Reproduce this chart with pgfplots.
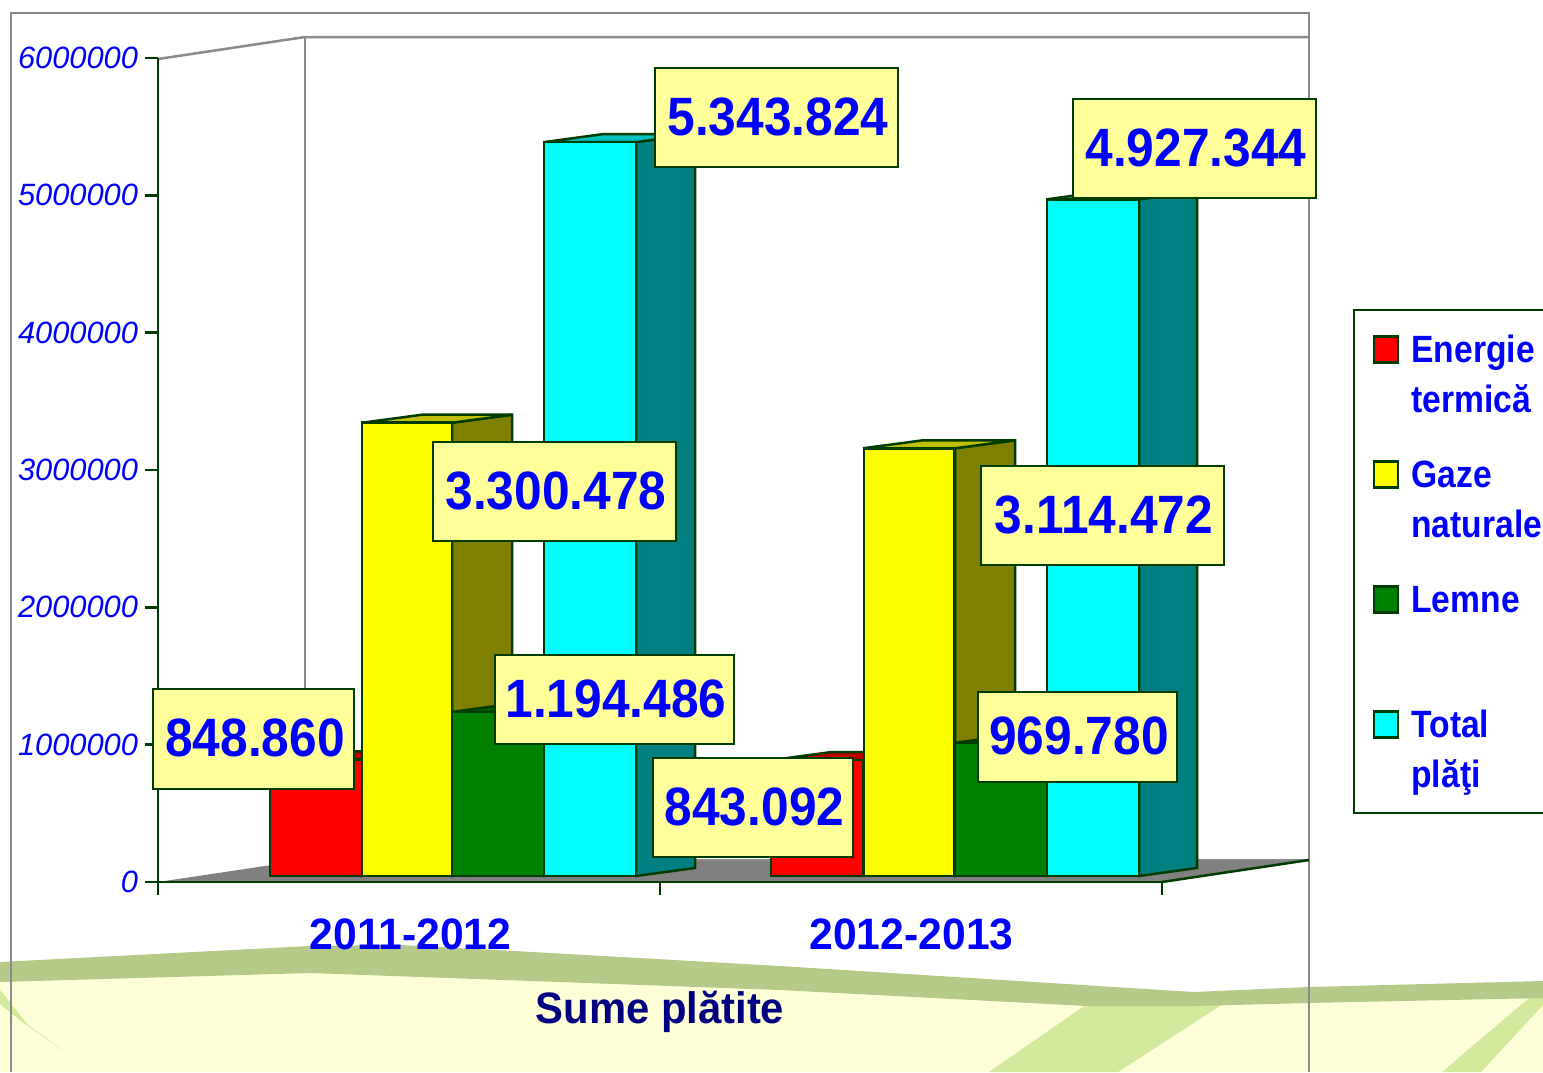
\documentclass[border=0pt]{standalone}
\usepackage{fontspec}
\usepackage{pgfplots}
\pgfplotsset{compat=1.18}
\setmainfont{Liberation Sans}
\newfontfamily\labf[FakeStretch=0.92]{Liberation Sans}
\newfontfamily\legf[FakeStretch=0.885]{Liberation Sans}
\newfontfamily\catf[FakeStretch=0.97]{Liberation Sans}
\newfontfamily\xlf[FakeStretch=0.95]{Liberation Sans}
\definecolor{edge}{HTML}{003C00}
\definecolor{wallg}{HTML}{8A8A8A}
\definecolor{floorg}{HTML}{808080}
\definecolor{band}{HTML}{B5CA88}
\definecolor{pale}{HTML}{FEFFD6}
\definecolor{stripe}{HTML}{D2E99E}
\definecolor{boxy}{HTML}{FFFF99}
\definecolor{navyt}{HTML}{000080}
\definecolor{blueT}{HTML}{0000FF}
\definecolor{redF}{HTML}{FF0000}
\definecolor{redS}{HTML}{800000}
\definecolor{redT}{HTML}{C00000}
\definecolor{yelF}{HTML}{FFFF00}
\definecolor{yelS}{HTML}{808000}
\definecolor{yelT}{HTML}{C0C000}
\definecolor{grnF}{HTML}{008000}
\definecolor{grnS}{HTML}{004000}
\definecolor{grnT}{HTML}{006000}
\definecolor{cyaF}{HTML}{00FFFF}
\definecolor{cyaS}{HTML}{008080}
\definecolor{cyaT}{HTML}{00C0C0}
\newcommand\legtwo[2]{\vbox{\hbox{\rule[-5.5pt]{0pt}{25pt}#1}\hbox{\rule[-5.5pt]{0pt}{25pt}#2}}}
\newcommand\lab[5]{\draw[draw=edge,line width=1.25pt,fill=boxy] (axis cs:#1,#2) rectangle (axis cs:#3,#4);
  \node[text=blueT,inner sep=0pt,font=\labf\bfseries\fontsize{27}{30}\selectfont] at (axis cs:{(#1+#3)/2+1.5},{(#2+#4)/2-1}) {#5};}
\pgfplotsset{
  px/.style={anchor=south west,at={(0pt,0pt)},scale only axis,width=771.5pt,height=536pt,
    xmin=0,xmax=1543,ymin=0,ymax=1072,y dir=reverse,hide axis,clip=false},
  face/.style={forget plot,draw=edge,line width=1.25pt,fill=#1},
  front/.style={ybar,bar width=46pt,bar shift=0pt,yshift=3pt,draw=edge,line width=1.25pt,fill=#1,
    legend image code/.code={\draw[draw=edge,line width=1.25pt,fill=#1] (0pt,0.5pt) rectangle (12pt,13.5pt);}},
}
\begin{document}
\begin{tikzpicture}[x=1pt,y=1pt]
\useasboundingbox (0,0) rectangle (771.5pt,536pt);
\clip (0,0) rectangle (771.5pt,536pt);
% background: page decoration and the walls and floor of the 3-D chart, in pixels
\begin{axis}[px]
\addplot[draw=none,fill=pale] coordinates {(0,975)(310,965)(780,980)(1194,1000)(1543,990)(1543,1072)(0,1072)} --cycle;
\addplot[draw=none,fill=stripe] coordinates {(1087,1004)(1223,1004)(1118,1072)(989,1072)} --cycle;
\addplot[draw=none,fill=stripe] coordinates {(1529,998)(1543,998)(1543,1005)(1481,1072)(1442,1072)} --cycle;
\addplot[draw=none,fill=stripe] coordinates {(0,990)(28,1025)(70,1055)(22,1022)(0,1004)} --cycle;
\addplot[draw=none,fill=band] coordinates {(0,962)(310,946)(400,945)(515,951)(780,966)(1194,992)(1309,987)(1543,981)
  (1543,998)(1309,1003)(1194,1006)(1087,1006)(780,990)(310,973)(0,982)} --cycle;
\addplot[draw=none,fill=floorg] coordinates {(158,882)(305,860)(1309,860)(1162,882)} --cycle;
\addplot[draw=wallg,line width=1.25pt] coordinates {(11,1072)(11,13)(1309,13)(1309,1072)};
\addplot[draw=wallg,line width=1.25pt] coordinates {(158,59)(305,37)(1309,37)};
\addplot[draw=wallg,line width=1.25pt] coordinates {(305,37)(305,860)(1309,860)};
\addplot[draw=edge,line width=1.25pt] coordinates {(1162,882)(1309,860)};
% legend frame
\addplot[draw=edge,line width=1.25pt] coordinates {(1560,310)(1354,310)(1354,813)(1560,813)};
\end{axis}
% the chart itself
\begin{axis}[anchor=south west,at={(79pt,95pt)},scale only axis,width=502pt,height=412pt,
  xmin=0,xmax=1004,ymin=0,ymax=6000000,clip=false,
  axis x line=bottom,axis y line=left,
  axis line style={draw=edge,line width=1.25pt,-},
  tick style={draw=edge,line width=1.25pt},major tick length=6.5pt,tick align=outside,
  xtick={0,502,1004},xticklabels={,,},
  extra x ticks={252.5,753.5},extra x tick labels={2011-2012,2012-2013},
  extra x tick style={major tick length=0pt,tick style={draw=none},
    tick label style={font=\catf\bfseries\fontsize{22}{24}\selectfont,text=blueT,yshift=-15pt}},
  ytick={0,1000000,2000000,3000000,4000000,5000000,6000000},
  scaled ticks=false,
  /pgf/number format/assume math mode=true,
  /pgf/number format/fixed,/pgf/number format/1000 sep={},
  y tick label style={font=\itshape\fontsize{15.4}{18}\selectfont,text=blueT},
  xlabel={Sume plătite},
  xlabel style={at={(axis description cs:0.5,0)},anchor=north,yshift=-51pt,
    font=\xlf\bfseries\fontsize{22}{24}\selectfont,text=navyt},
  legend style={at={(axis cs:1195.5,4172000)},anchor=north west,draw=none,fill=none,
    inner xsep=9.5pt,inner ysep=7pt,row sep=16.5pt,column sep=6pt,
    nodes={inner sep=0pt,outer sep=0pt,text=blueT,font=\legf\bfseries\fontsize{19}{25}\selectfont}},
  legend cell align=left,
]
% Energie termica
\addplot[face=redS] coordinates {(204,43689)(263,101941)(263,950801)(204,892549)} --cycle;
\addplot[face=redT] coordinates {(112,892549)(204,892549)(263,950801)(171,950801)} --cycle;
\addplot[face=redS] coordinates {(705,43689)(764,101941)(764,945033)(705,886781)} --cycle;
\addplot[face=redT] coordinates {(613,886781)(705,886781)(764,945033)(672,945033)} --cycle;
\addplot[front=redF] coordinates {(158,848860)(659,843092)};
\addlegendentry{\legtwo{Energie}{termică}}
% Gaze naturale
\addplot[face=yelS] coordinates {(294,43689)(354,101941)(354,3402419)(294,3344167)} --cycle;
\addplot[face=yelT] coordinates {(204,3344167)(294,3344167)(354,3402419)(264,3402419)} --cycle;
\addplot[face=yelS] coordinates {(797,43689)(857,101941)(857,3216413)(797,3158161)} --cycle;
\addplot[face=yelT] coordinates {(705,3158161)(797,3158161)(857,3216413)(765,3216413)} --cycle;
\addplot[front=yelF,bar width=45pt] coordinates {(249,3300478)(751,3114472)};
\addlegendentry{\legtwo{Gaze}{naturale}}
% Lemne
\addplot[face=grnS] coordinates {(386,43689)(445,101941)(445,1296427)(386,1238175)} --cycle;
\addplot[face=grnT] coordinates {(294,1238175)(386,1238175)(445,1296427)(353,1296427)} --cycle;
\addplot[face=grnS] coordinates {(889,43689)(948,101941)(948,1071721)(889,1013469)} --cycle;
\addplot[face=grnT] coordinates {(797,1013469)(889,1013469)(948,1071721)(856,1071721)} --cycle;
\addplot[front=grnF] coordinates {(340,1194486)(843,969780)};
\addlegendentry{\legtwo{Lemne}{\phantom{x}}}
% Total plati
\addplot[face=cyaS] coordinates {(478,43689)(537,101941)(537,5445765)(478,5387513)} --cycle;
\addplot[face=cyaT] coordinates {(386,5387513)(478,5387513)(537,5445765)(445,5445765)} --cycle;
\addplot[face=cyaS] coordinates {(981,43689)(1039,101941)(1039,5029285)(981,4971033)} --cycle;
\addplot[face=cyaT] coordinates {(889,4971033)(981,4971033)(1039,5029285)(947,5029285)} --cycle;
\addplot[front=cyaF] coordinates {(432,5343824)(935,4927344)};
\addlegendentry{\legtwo{Total}{plăţi}}
\end{axis}
% value labels, in pixels
\begin{axis}[px]
\lab{655}{68}{898}{167}{5.343.824}
\lab{1073}{99}{1316}{198}{4.927.344}
\lab{433}{442}{676}{541}{3.300.478}
\lab{981}{466}{1224}{565}{3.114.472}
\lab{495}{655}{734}{744}{1.194.486}
\lab{978}{692}{1177}{782}{969.780}
\lab{153}{689}{354}{789}{848.860}
\lab{653}{758}{853}{857}{843.092}
\end{axis}
\end{tikzpicture}
\end{document}
